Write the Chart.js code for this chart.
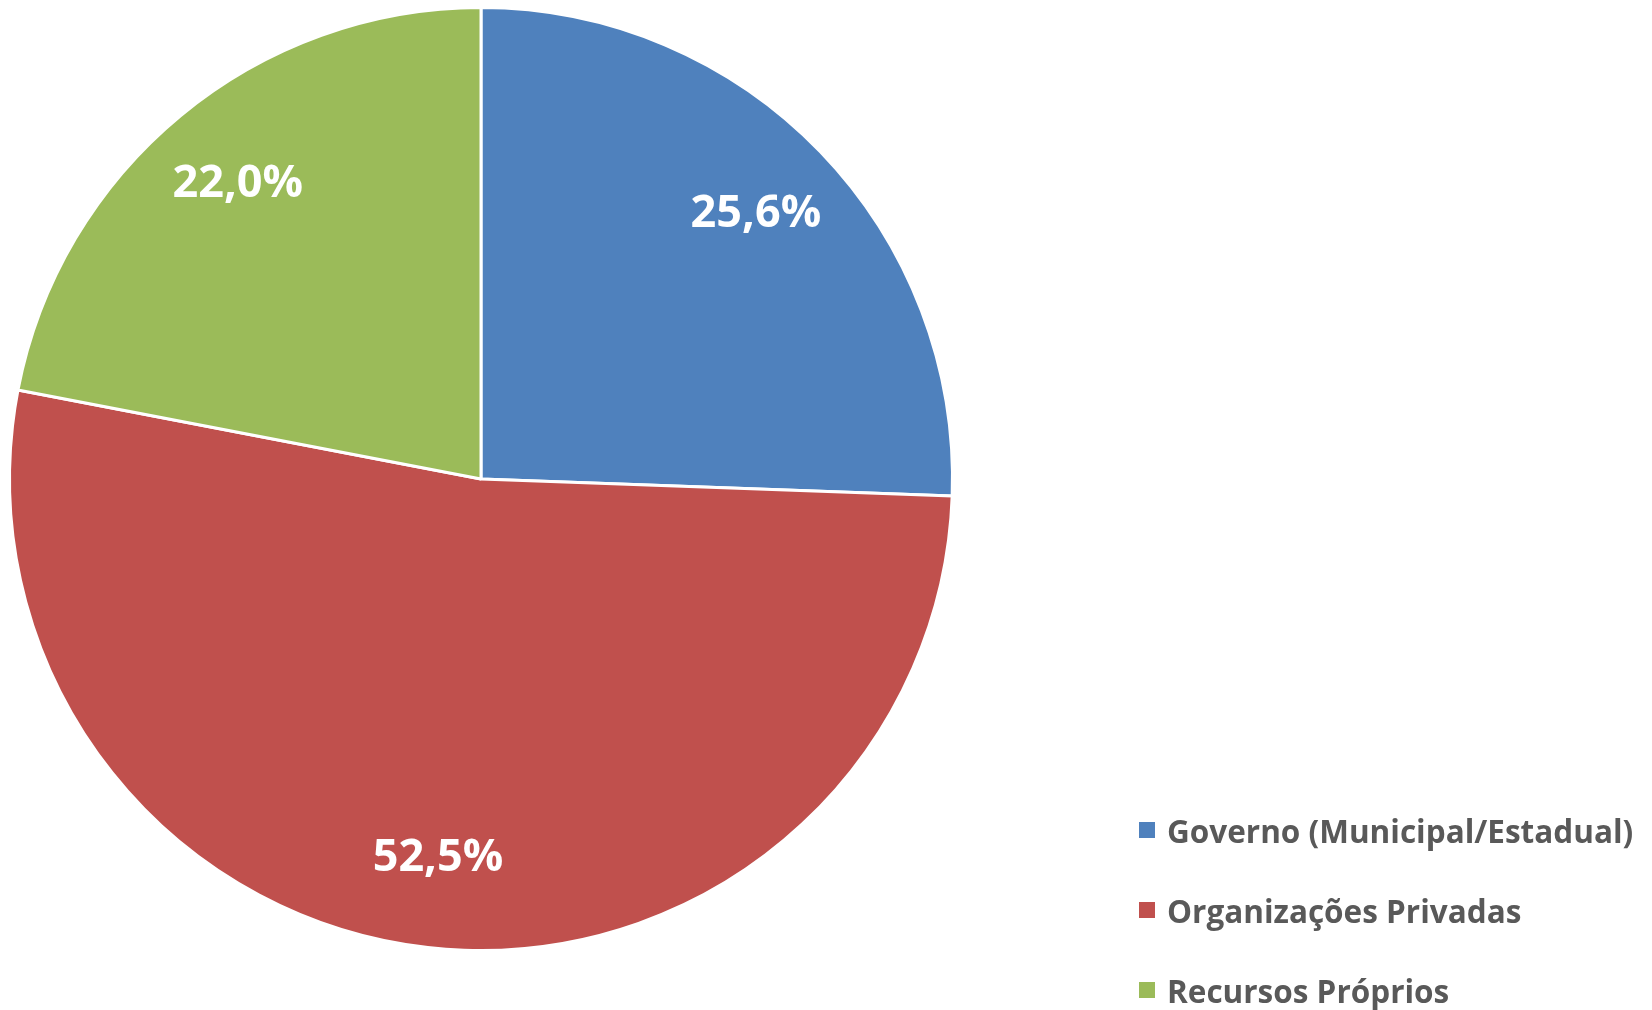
<!DOCTYPE html>
<html>
<head>
<meta charset="utf-8">
<script src="https://cdn.jsdelivr.net/npm/chart.js@4"></script>
<style>
  html, body { margin: 0; padding: 0; background: #fff; }
  #wrap { position: relative; width: 1652px; height: 1010px; }
  #legend { position: absolute; left: 1139px; top: 810px; font-family: "Open Sans", sans-serif; font-weight: bold; font-size: 31.5px; color: #595959; }
  #legend .row { display: flex; align-items: center; height: 40px; margin-bottom: 40px; white-space: nowrap; }
  #legend .box { width: 16px; height: 16px; margin-right: 12px; }
</style>
</head>
<body>
<div id="wrap">
  <canvas id="chartPie" width="1652" height="1010"></canvas>
  <div id="legend"></div>
</div>
<script>
const labels = ['Governo (Municipal/Estadual)', 'Organizações Privadas', 'Recursos Próprios'];
const values = [25.6, 52.5, 22.0];
const colors = ['#4F81BD', '#C0504D', '#9BBB59'];

// rótulos de porcentagem dentro das fatias
const sliceLabels = {
    id: 'sliceLabels',
    afterDatasetsDraw(chart) {
        const { ctx } = chart;
        const meta = chart.getDatasetMeta(0);
        ctx.save();
        ctx.fillStyle = '#ffffff';
        ctx.font = 'bold 45px "Open Sans"';
        ctx.textAlign = 'center';
        ctx.textBaseline = 'middle';
        meta.data.forEach((arc, i) => {
            const p = arc.getProps(['x', 'y', 'startAngle', 'endAngle', 'outerRadius']);
            const mid = (p.startAngle + p.endAngle) / 2;
            const r = p.outerRadius * 0.81;
            const txt = values[i].toFixed(1).replace('.', ',') + '%';
            ctx.fillText(txt, p.x + Math.cos(mid) * r, p.y + Math.sin(mid) * r);
        });
        ctx.restore();
    },
};

new Chart(document.getElementById('chartPie'), {
    type: 'pie',
    data: {
        labels: labels,
        datasets: [{
            data: values,
            backgroundColor: colors,
            borderColor: '#ffffff',
            borderWidth: 3,
        }],
    },
    options: {
        responsive: false,
        animation: false,
        layout: { padding: { top: 6, bottom: 58, left: 8, right: 698 } },
        plugins: { legend: { display: false }, tooltip: { enabled: false } },
    },
    plugins: [sliceLabels],
});

const legendEl = document.getElementById('legend');
labels.forEach((l, i) => {
    const row = document.createElement('div');
    row.className = 'row';
    const box = document.createElement('span');
    box.className = 'box';
    box.style.background = colors[i];
    const t = document.createElement('span');
    t.textContent = l;
    row.appendChild(box);
    row.appendChild(t);
    legendEl.appendChild(row);
});
</script>
</body>
</html>
